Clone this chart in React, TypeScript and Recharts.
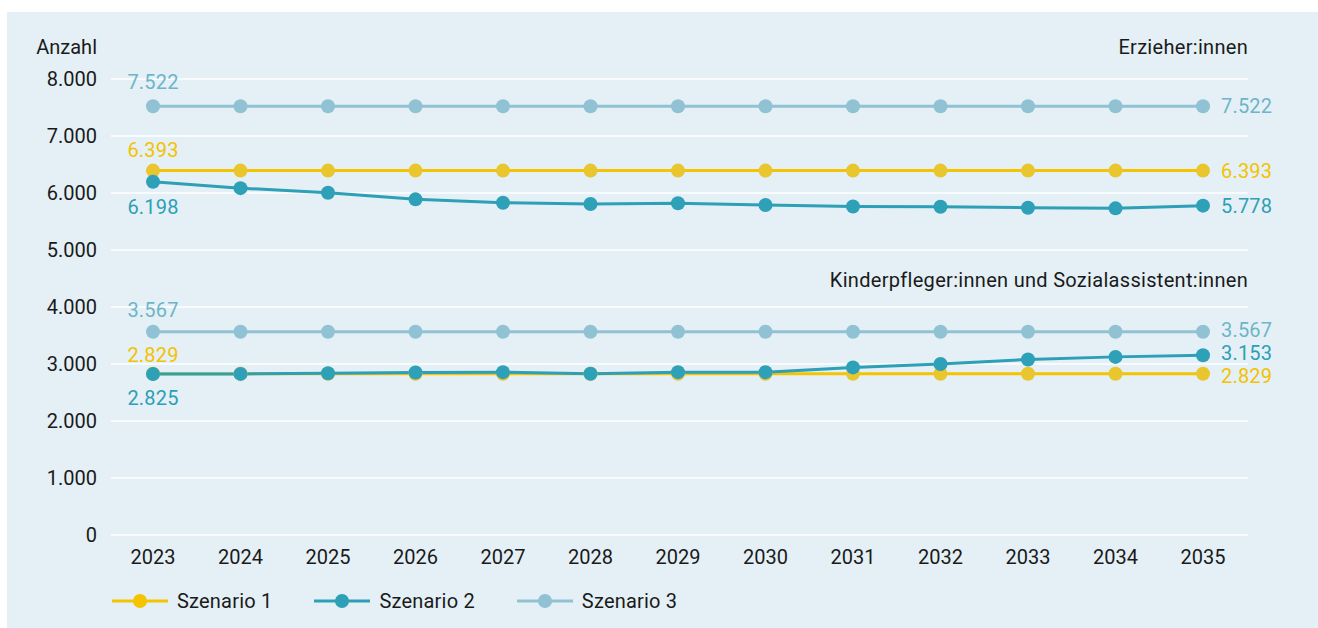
import React from 'react';
import { LineChart, Line, XAxis, YAxis, CartesianGrid, Legend } from 'recharts';

const years = ['2023', '2024', '2025', '2026', '2027', '2028', '2029', '2030', '2031', '2032', '2033', '2034', '2035'];

const erzieherS1 = [6393, 6393, 6393, 6393, 6393, 6393, 6393, 6393, 6393, 6393, 6393, 6393, 6393];
const erzieherS2 = [6198, 6085, 6005, 5889, 5830, 5807, 5819, 5789, 5762, 5760, 5742, 5731, 5778];
const erzieherS3 = [7522, 7522, 7522, 7522, 7522, 7522, 7522, 7522, 7522, 7522, 7522, 7522, 7522];

const kinderS1 = [2829, 2829, 2829, 2829, 2829, 2829, 2829, 2829, 2829, 2829, 2829, 2829, 2829];
const kinderS2 = [2825, 2826, 2838, 2852, 2857, 2830, 2857, 2857, 2940, 3000, 3080, 3125, 3153];
const kinderS3 = [3567, 3567, 3567, 3567, 3567, 3567, 3567, 3567, 3567, 3567, 3567, 3567, 3567];

const yTicks = [0, 1000, 2000, 3000, 4000, 5000, 6000, 7000, 8000];
const seriesNames = ['Szenario 1', 'Szenario 2', 'Szenario 3'];
const yAxisTitle = 'Anzahl';
const groupTitleTop = 'Erzieher:innen';
const groupTitleBottom = 'Kinderpfleger:innen und Sozialassistent:innen';

const data = years.map((year, i) => ({
  year,
  e1: erzieherS1[i],
  e2: erzieherS2[i],
  e3: erzieherS3[i],
  k1: kinderS1[i],
  k2: kinderS2[i],
  k3: kinderS3[i],
}));

const FONT = 'Roboto, "Noto Sans", sans-serif';
const TEXT = '#1a1a1a';
const BG = '#e4f0f5';

const LINE1 = '#f5c400';
const DOT1 = '#e9c52e';
const LABEL1 = '#f3c200';
const LINE2 = '#2d9fb6';
const DOT2 = '#2ea0b8';
const LABEL2 = '#2d9fb6';
const LINE3 = '#90c2d3';
const DOT3 = '#90c2d3';
const LABEL3 = '#6db5c9';

const fmt = (v: number) => String(Math.round(v)).replace(/\B(?=(\d{3})+(?!\d))/g, '.');

const makeLabel = (color: string, firstDy: number, lastDy: number) => (props: any) => {
  const { x, y, value, index } = props;
  if (index === 0) {
    return (
      <text
        x={x}
        y={y + firstDy}
        dy="0.355em"
        textAnchor="middle"
        fill={color}
        fontSize={20}
        fontFamily={FONT}
        letterSpacing={0.2}
      >
        {fmt(value)}
      </text>
    );
  }
  if (index === years.length - 1) {
    return (
      <text
        x={x + 18}
        y={y + lastDy}
        dy="0.355em"
        textAnchor="start"
        fill={color}
        fontSize={20}
        fontFamily={FONT}
        letterSpacing={0.2}
      >
        {fmt(value)}
      </text>
    );
  }
  return <g />;
};

const renderLegend = (props: any) => {
  const payload = ((props.payload || []) as any[]).filter((e: any) => seriesNames.includes(e.value));
  payload.sort((a: any, b: any) => seriesNames.indexOf(a.value) - seriesNames.indexOf(b.value));
  return (
    <div style={{ display: 'flex', height: 24, alignItems: 'center', fontFamily: FONT, fontSize: 20, color: TEXT }}>
      {payload.map((e: any, i: number) => (
        <div key={i} style={{ display: 'flex', alignItems: 'center', marginRight: 42 }}>
          <svg width={56} height={16} style={{ display: 'block' }}>
            <line x1={0} x2={56} y1={8} y2={8} stroke={e.color} strokeWidth={3} />
            <circle cx={28} cy={8} r={7} fill={e.color} />
          </svg>
          <span style={{ marginLeft: 9, lineHeight: '24px', whiteSpace: 'nowrap', letterSpacing: 0.2 }}>{e.value}</span>
        </div>
      ))}
    </div>
  );
};

const textStyle: React.CSSProperties = {
  position: 'absolute',
  fontFamily: FONT,
  fontSize: 20,
  lineHeight: '20px',
  color: TEXT,
  whiteSpace: 'nowrap',
  letterSpacing: 0.3,
};

export default function App() {
  const W = 1311;
  const H = 616;
  return (
    <div style={{ position: 'absolute', left: 7, top: 12, width: W, height: H, background: BG, overflow: 'hidden' }}>
      <LineChart width={W} height={H} data={data} margin={{ top: 67, right: 70, bottom: 29, left: 0 }}>
        <CartesianGrid vertical={false} stroke="#ffffff" strokeWidth={1.5} />
        <XAxis
          dataKey="year"
          axisLine={false}
          tickLine={false}
          tickSize={0}
          tickMargin={15}
          height={40}
          interval={0}
          padding={{ left: 42, right: 45 }}
          tick={{ fill: TEXT, fontSize: 20, fontFamily: FONT }}
        />
        <YAxis
          domain={[0, 8000]}
          ticks={yTicks}
          width={104}
          axisLine={false}
          tickLine={false}
          tickSize={0}
          tickMargin={14}
          tickFormatter={fmt}
          tick={{ fill: TEXT, fontSize: 20, fontFamily: FONT }}
        />
        <Legend
          align="left"
          verticalAlign="bottom"
          content={renderLegend}
          wrapperStyle={{ left: 105, bottom: 15, width: 'auto' }}
        />
        <Line
          dataKey="e1"
          name={seriesNames[0]}
          stroke={LINE1}
          strokeWidth={3}
          dot={{ r: 7, fill: DOT1, stroke: 'none', strokeWidth: 0 }}
          activeDot={false}
          label={makeLabel(LABEL1, -21, 0)}
          isAnimationActive={false}
        />
        <Line
          dataKey="e2"
          name={seriesNames[1]}
          stroke={LINE2}
          strokeWidth={3}
          dot={{ r: 7, fill: DOT2, stroke: 'none', strokeWidth: 0 }}
          activeDot={false}
          label={makeLabel(LABEL2, 25, 0)}
          isAnimationActive={false}
        />
        <Line
          dataKey="e3"
          name={seriesNames[2]}
          stroke={LINE3}
          strokeWidth={3}
          dot={{ r: 7, fill: DOT3, stroke: 'none', strokeWidth: 0 }}
          activeDot={false}
          label={makeLabel(LABEL3, -24, 0)}
          isAnimationActive={false}
        />
        <Line
          dataKey="k3"
          name="k3"
          legendType="none"
          stroke={LINE3}
          strokeWidth={3}
          dot={{ r: 7, fill: DOT3, stroke: 'none', strokeWidth: 0 }}
          activeDot={false}
          label={makeLabel(LABEL3, -22, -2)}
          isAnimationActive={false}
        />
        <Line
          dataKey="k1"
          name="k1"
          legendType="none"
          stroke={LINE1}
          strokeWidth={3}
          dot={{ r: 7, fill: DOT1, stroke: 'none', strokeWidth: 0 }}
          activeDot={false}
          label={makeLabel(LABEL1, -19, 2)}
          isAnimationActive={false}
        />
        <Line
          dataKey="k2"
          name="k2"
          legendType="none"
          stroke={LINE2}
          strokeWidth={3}
          dot={{ r: 7, fill: DOT2, stroke: 'none', strokeWidth: 0 }}
          activeDot={false}
          label={makeLabel(LABEL2, 24, -2)}
          isAnimationActive={false}
        />
      </LineChart>
      <div style={{ ...textStyle, right: W - 90, top: 25, letterSpacing: 0 }}>{yAxisTitle}</div>
      <div style={{ ...textStyle, right: W - 1241, top: 25 }}>{groupTitleTop}</div>
      <div style={{ ...textStyle, right: W - 1241, top: 258 }}>{groupTitleBottom}</div>
    </div>
  );
}
